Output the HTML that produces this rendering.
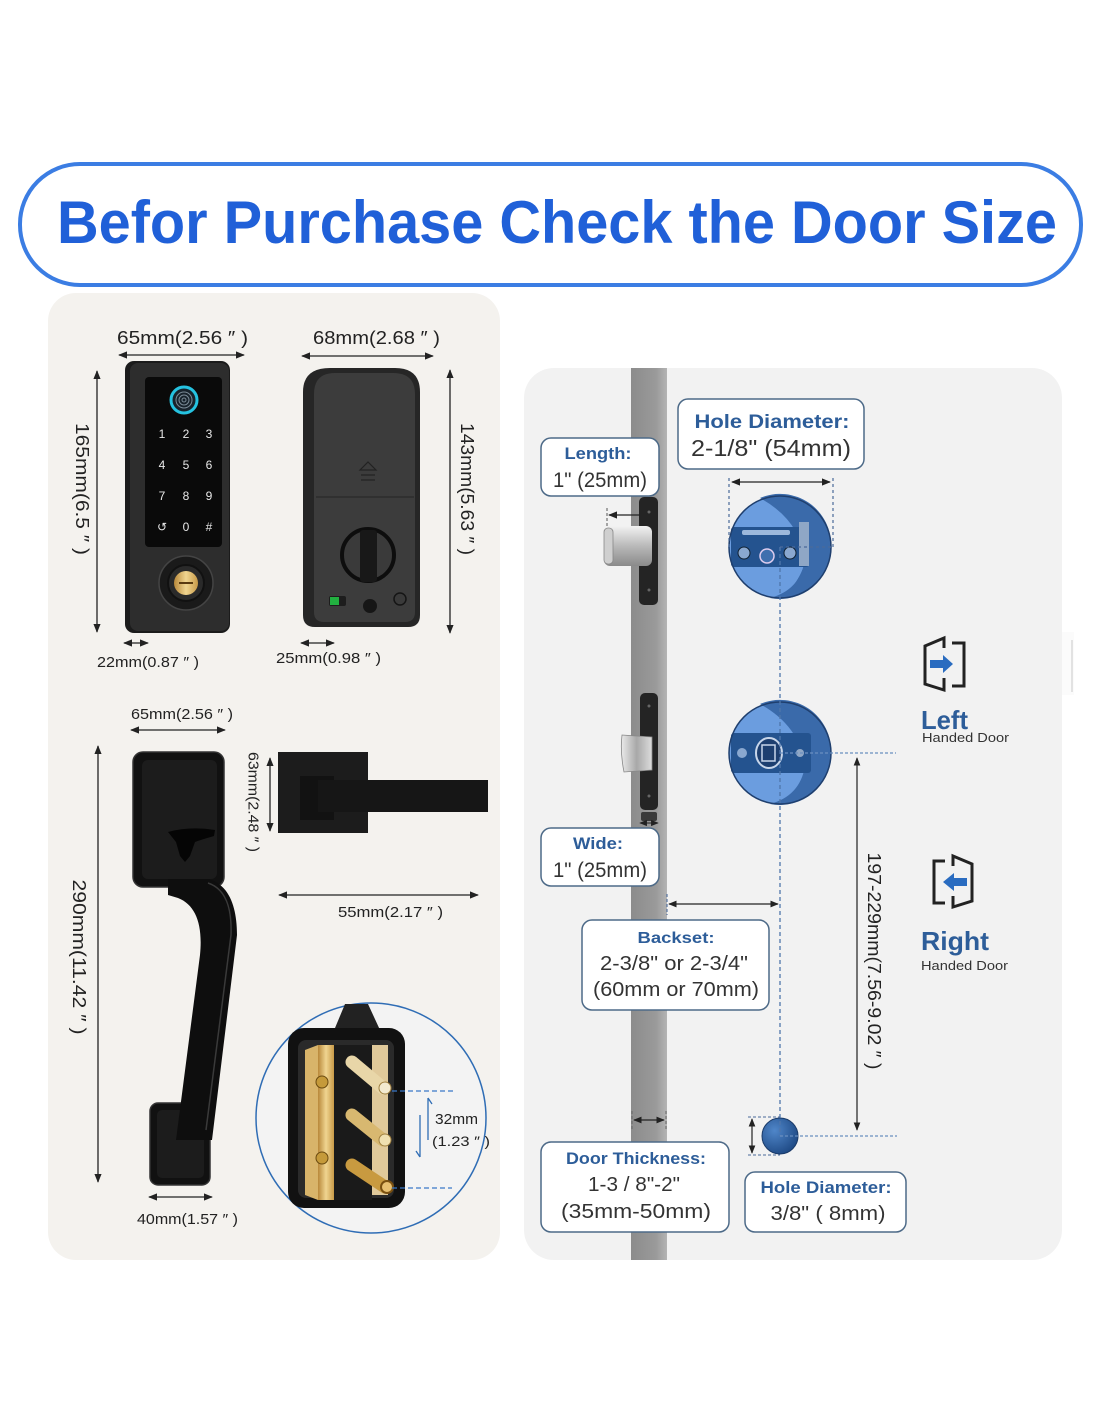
<!DOCTYPE html>
<html><head><meta charset="utf-8"><style>
html,body{margin:0;padding:0;background:#fff;}
svg{display:block;}
</style></head><body>
<svg width="1100" height="1422" viewBox="0 0 1100 1422" xmlns="http://www.w3.org/2000/svg" font-family="Liberation Sans, sans-serif">
<defs>
<marker id="a" viewBox="0 0 10 10" refX="9" refY="5" markerWidth="7" markerHeight="7" orient="auto-start-reverse"><path d="M0,1 L10,5 L0,9 z" fill="#222"/></marker>
<marker id="b" viewBox="0 0 10 10" refX="9" refY="5" markerWidth="6" markerHeight="6" orient="auto-start-reverse"><path d="M0,1 L10,5 L0,9 z" fill="#2f6db5"/></marker>
<linearGradient id="silver" x1="0" y1="0" x2="0" y2="1"><stop offset="0" stop-color="#f2f2f2"/><stop offset="0.5" stop-color="#b9b9b9"/><stop offset="1" stop-color="#8a8a8a"/></linearGradient>
<linearGradient id="silverh" x1="0" y1="0" x2="1" y2="0"><stop offset="0" stop-color="#eaeaea"/><stop offset="0.5" stop-color="#a8a8a8"/><stop offset="1" stop-color="#dcdcdc"/></linearGradient>
<linearGradient id="gold" x1="0" y1="0" x2="1" y2="0"><stop offset="0" stop-color="#b8883a"/><stop offset="0.5" stop-color="#f0d590"/><stop offset="1" stop-color="#c89a48"/></linearGradient>
<linearGradient id="door" x1="0" y1="0" x2="1" y2="0"><stop offset="0" stop-color="#8c8c8c"/><stop offset="0.7" stop-color="#9a9a9a"/><stop offset="1" stop-color="#b4b4b4"/></linearGradient>
<radialGradient id="small" cx="0.35" cy="0.35" r="0.7"><stop offset="0" stop-color="#4f86c9"/><stop offset="1" stop-color="#1f4a85"/></radialGradient>
</defs>

<!-- Header pill -->
<rect x="20" y="164" width="1061" height="121" rx="60" fill="#fff" stroke="#3b7de3" stroke-width="4"/>
<text x="57" y="243" font-size="60" font-weight="bold" fill="#2060d8" textLength="1000" lengthAdjust="spacingAndGlyphs">Befor Purchase Check the Door Size</text>

<!-- Left panel -->
<rect x="48" y="293" width="452" height="967" rx="28" fill="#f4f2ee"/>

<!-- Keypad front dims -->
<text x="117" y="344" font-size="18" fill="#222" textLength="131" lengthAdjust="spacingAndGlyphs">65mm(2.56 ″ )</text>
<line x1="119" y1="355" x2="244" y2="355" stroke="#222" stroke-width="1.3" marker-start="url(#a)" marker-end="url(#a)"/>
<text x="313" y="344" font-size="18" fill="#222" textLength="127" lengthAdjust="spacingAndGlyphs">68mm(2.68 ″ )</text>
<line x1="302" y1="356" x2="433" y2="356" stroke="#222" stroke-width="1.3" marker-start="url(#a)" marker-end="url(#a)"/>
<line x1="97" y1="371" x2="97" y2="632" stroke="#222" stroke-width="1.3" marker-start="url(#a)" marker-end="url(#a)"/>
<text x="82" y="489" font-size="18" fill="#222" text-anchor="middle" dominant-baseline="central" transform="rotate(90 82 489)" textLength="132" lengthAdjust="spacingAndGlyphs">165mm(6.5 ″ )</text>
<line x1="450" y1="370" x2="450" y2="633" stroke="#222" stroke-width="1.3" marker-start="url(#a)" marker-end="url(#a)"/>
<text x="467" y="489" font-size="18" fill="#222" text-anchor="middle" dominant-baseline="central" transform="rotate(90 467 489)" textLength="132" lengthAdjust="spacingAndGlyphs">143mm(5.63 ″ )</text>

<!-- Keypad front -->
<rect x="125" y="361" width="105" height="272" rx="9" fill="#1b1b1b"/>
<rect x="130" y="363" width="99" height="268" rx="8" fill="#2d2d2d"/>
<rect x="145" y="377" width="77" height="170" rx="4" fill="#0a0a0a"/>
<circle cx="184" cy="400" r="13" fill="#18232c" stroke="#25c2e0" stroke-width="3"/>
<circle cx="184" cy="400" r="8" fill="none" stroke="#7a8a96" stroke-width="1"/>
<circle cx="184" cy="400" r="5" fill="none" stroke="#7a8a96" stroke-width="1"/>
<circle cx="184" cy="400" r="2" fill="none" stroke="#7a8a96" stroke-width="1"/>
<g fill="#e8e8e8" font-size="12" text-anchor="middle">
<text x="162" y="438">1</text><text x="186" y="438">2</text><text x="209" y="438">3</text>
<text x="162" y="469">4</text><text x="186" y="469">5</text><text x="209" y="469">6</text>
<text x="162" y="500">7</text><text x="186" y="500">8</text><text x="209" y="500">9</text>
<text x="162" y="531">↺</text><text x="186" y="531">0</text><text x="209" y="531">#</text>
</g>
<circle cx="186" cy="583" r="27" fill="#1a1a1a" stroke="#444" stroke-width="1.5"/>
<circle cx="186" cy="583" r="18" fill="#2a2a2a" stroke="#111" stroke-width="2"/>
<circle cx="186" cy="583" r="12" fill="url(#gold)"/>
<line x1="179" y1="583" x2="193" y2="583" stroke="#5a3a10" stroke-width="2"/>

<!-- Back unit -->
<path d="M303 392 Q303 368 330 368 L395 368 Q420 368 420 392 L420 615 Q420 627 408 627 L315 627 Q303 627 303 615 Z" fill="#262626"/>
<path d="M314 394 Q314 373 335 373 L393 373 Q415 373 415 394 L415 612 Q415 622 405 622 L324 622 Q314 622 314 612 Z" fill="#3c3c3c"/>
<line x1="316" y1="497" x2="414" y2="497" stroke="#2a2a2a" stroke-width="1.2"/>
<path d="M360 470 L368 462 L376 470 Z" fill="none" stroke="#222" stroke-width="1.2"/>
<line x1="361" y1="475" x2="375" y2="475" stroke="#222" stroke-width="1.2"/>
<line x1="361" y1="480" x2="375" y2="480" stroke="#222" stroke-width="1.2"/>
<circle cx="368" cy="555" r="26" fill="#3a3a3a" stroke="#0d0d0d" stroke-width="4"/>
<rect x="360" y="530" width="17" height="52" rx="3" fill="#181818"/>
<rect x="329" y="596" width="17" height="10" rx="2" fill="#1d1d1d"/>
<rect x="330" y="597" width="9" height="8" fill="#22b040"/>
<circle cx="370" cy="606" r="7" fill="#161616"/>
<circle cx="400" cy="599" r="6" fill="#3a3a3a" stroke="#151515" stroke-width="1.5"/>

<line x1="124" y1="643" x2="148" y2="643" stroke="#222" stroke-width="1.3" marker-start="url(#a)" marker-end="url(#a)"/>
<text x="97" y="667" font-size="15" fill="#222" textLength="102" lengthAdjust="spacingAndGlyphs">22mm(0.87 ″ )</text>
<line x1="301" y1="643" x2="334" y2="643" stroke="#222" stroke-width="1.3" marker-start="url(#a)" marker-end="url(#a)"/>
<text x="276" y="663" font-size="15" fill="#222" textLength="105" lengthAdjust="spacingAndGlyphs">25mm(0.98 ″ )</text>

<!-- Handle set -->
<text x="131" y="719" font-size="15" fill="#222" textLength="102" lengthAdjust="spacingAndGlyphs">65mm(2.56 ″ )</text>
<line x1="131" y1="730" x2="225" y2="730" stroke="#222" stroke-width="1.3" marker-start="url(#a)" marker-end="url(#a)"/>
<line x1="98" y1="746" x2="98" y2="1182" stroke="#222" stroke-width="1.3" marker-start="url(#a)" marker-end="url(#a)"/>
<text x="79" y="957" font-size="18" fill="#222" text-anchor="middle" dominant-baseline="central" transform="rotate(90 79 957)" textLength="155" lengthAdjust="spacingAndGlyphs">290mm(11.42 ″ )</text>

<rect x="133" y="752" width="91" height="135" rx="10" fill="#111" stroke="#333" stroke-width="1.5"/>
<rect x="142" y="760" width="75" height="119" rx="6" fill="#1c1c1c"/>
<path d="M168 832 Q190 826 215 830 L214 836 Q200 840 195 842 L190 856 L185 862 L180 856 L176 842 Z" fill="#050505"/>
<rect x="150" y="1103" width="60" height="82" rx="8" fill="#111" stroke="#333" stroke-width="1.5"/>
<rect x="157" y="1110" width="47" height="68" rx="5" fill="#1c1c1c"/>
<path d="M168 879 L208 879 C228 884 237 905 237 935 L212 1140 L176 1140 L200 955 C203 925 196 905 178 898 L168 895 Z" fill="#0e0e0e"/>
<path d="M208 883 C226 889 232 908 231 935 L206 1130" fill="none" stroke="#3a3a3a" stroke-width="1.5"/>

<rect x="278" y="752" width="90" height="81" fill="#1c1c1c"/>
<rect x="300" y="776" width="34" height="44" fill="#121212"/>
<rect x="318" y="780" width="170" height="32" fill="#161616"/>
<line x1="270" y1="758" x2="270" y2="831" stroke="#222" stroke-width="1.3" marker-start="url(#a)" marker-end="url(#a)"/>
<text x="253" y="802" font-size="15" fill="#222" text-anchor="middle" dominant-baseline="central" transform="rotate(90 253 802)" textLength="100" lengthAdjust="spacingAndGlyphs">63mm(2.48 ″ )</text>
<line x1="279" y1="895" x2="478" y2="895" stroke="#222" stroke-width="1.3" marker-start="url(#a)" marker-end="url(#a)"/>
<text x="338" y="917" font-size="15" fill="#222" textLength="105" lengthAdjust="spacingAndGlyphs">55mm(2.17 ″ )</text>

<line x1="149" y1="1197" x2="212" y2="1197" stroke="#222" stroke-width="1.3" marker-start="url(#a)" marker-end="url(#a)"/>
<text x="137" y="1224" font-size="15" fill="#222" textLength="101" lengthAdjust="spacingAndGlyphs">40mm(1.57 ″ )</text>

<!-- Detail circle -->
<circle cx="371" cy="1118" r="115" fill="#f3f3f3" stroke="#2f6db5" stroke-width="1.5"/>
<path d="M335 1028 L345 1004 L368 1004 L380 1030 Z" fill="#222"/>
<rect x="288" y="1028" width="117" height="180" rx="16" fill="#111"/>
<rect x="298" y="1040" width="96" height="158" rx="8" fill="#2a2a2a"/>
<path d="M305 1050 L318 1045 L318 1200 L305 1195 Z" fill="#d8b46a"/>
<rect x="318" y="1045" width="16" height="155" fill="url(#gold)"/>
<rect x="334" y="1045" width="38" height="155" fill="#1a1a1a"/>
<rect x="372" y="1045" width="16" height="150" fill="#e0c99a"/>
<circle cx="322" cy="1082" r="6" fill="#c59a3a" stroke="#6a4a10"/>
<circle cx="322" cy="1158" r="6" fill="#c59a3a" stroke="#6a4a10"/>
<line x1="352" y1="1062" x2="383" y2="1088" stroke="#e8d6a8" stroke-width="13" stroke-linecap="round"/>
<line x1="352" y1="1115" x2="383" y2="1140" stroke="#d8b870" stroke-width="13" stroke-linecap="round"/>
<line x1="352" y1="1165" x2="385" y2="1187" stroke="#c89a40" stroke-width="13" stroke-linecap="round"/>
<circle cx="385" cy="1088" r="6" fill="#f3ead0" stroke="#a08040"/>
<circle cx="385" cy="1140" r="6" fill="#f0e0b0" stroke="#a08040"/>
<circle cx="387" cy="1187" r="6" fill="#e8c070" stroke="#7a5010" stroke-width="2"/>
<line x1="392" y1="1091" x2="453" y2="1091" stroke="#3a78c8" stroke-width="1.3" stroke-dasharray="5 3"/>
<line x1="392" y1="1188" x2="452" y2="1188" stroke="#3a78c8" stroke-width="1.3" stroke-dasharray="5 3"/>
<path d="M428 1098 L428 1140 M428 1098 L432 1104" stroke="#2f6db5" stroke-width="1.3" fill="none"/>
<path d="M420 1115 L420 1157 M420 1157 L416 1151" stroke="#2f6db5" stroke-width="1.3" fill="none"/>
<text x="435" y="1124" font-size="15" fill="#222" textLength="43" lengthAdjust="spacingAndGlyphs">32mm</text>
<text x="432" y="1146" font-size="14" fill="#222" textLength="58" lengthAdjust="spacingAndGlyphs">(1.23 ″ )</text>

<!-- Right panel -->
<rect x="524" y="368" width="538" height="892" rx="30" fill="#f2f2f2"/>
<rect x="1062" y="632" width="12" height="63" fill="#fbfbfb"/>
<line x1="1072" y1="640" x2="1072" y2="692" stroke="#e2e2e2" stroke-width="2"/>
<rect x="631" y="368" width="36" height="892" fill="url(#door)"/>

<!-- deadbolt -->
<rect x="639" y="497" width="19" height="108" rx="5" fill="#242424"/>
<circle cx="649" cy="512" r="1.5" fill="#666"/><circle cx="649" cy="590" r="1.5" fill="#666"/>
<rect x="604" y="526" width="48" height="40" rx="6" fill="url(#silver)"/>
<rect x="604" y="528" width="9" height="36" rx="4" fill="#cfcfcf" stroke="#888" stroke-width="0.8"/>
<line x1="607" y1="508" x2="607" y2="528" stroke="#555" stroke-width="1" stroke-dasharray="3 2"/>
<line x1="640" y1="515" x2="609" y2="515" stroke="#222" stroke-width="1.3" marker-end="url(#a)"/>
<!-- latch -->
<rect x="640" y="693" width="18" height="117" rx="5" fill="#242424"/>
<circle cx="649" cy="706" r="1.5" fill="#666"/><circle cx="649" cy="796" r="1.5" fill="#666"/>
<path d="M622 735 Q620 752 624 772 L652 770 L652 737 Z" fill="url(#silverh)" stroke="#888" stroke-width="0.8"/>
<rect x="641" y="812" width="16" height="9" rx="2" fill="#3a3a3a"/>
<line x1="640" y1="823" x2="658" y2="823" stroke="#222" stroke-width="1.1" marker-start="url(#a)" marker-end="url(#a)"/>

<!-- hole circles -->
<g>
<circle cx="780" cy="547" r="51" fill="#6b9ddf"/>
<path d="M780 496 A51 51 0 0 1 780 598 A62 62 0 0 0 780 496 Z" fill="#2f5e9c"/>
<path d="M760 498 Q800 520 805 560 Q800 590 770 598 A51 51 0 0 0 831 547 A51 51 0 0 0 760 498 Z" fill="#3a6aaa"/>
<rect x="731" y="527" width="78" height="40" rx="3" fill="#24538f"/>
<rect x="742" y="530" width="48" height="5" rx="2" fill="#9cb8dc"/>
<circle cx="744" cy="553" r="6" fill="#8aa8d0" stroke="#123" stroke-width="1"/>
<circle cx="790" cy="553" r="6" fill="#8aa8d0" stroke="#123" stroke-width="1"/>
<circle cx="767" cy="556" r="7" fill="#3f6fae" stroke="#dce" stroke-width="1.5"/>
<rect x="799" y="522" width="10" height="44" fill="#8fa7c6"/>
<circle cx="780" cy="547" r="51" fill="none" stroke="#1f3f6e" stroke-width="1.5"/>
</g>
<g>
<circle cx="780" cy="753" r="51" fill="#6b9ddf"/>
<path d="M760 704 Q800 726 805 766 Q800 796 770 804 A51 51 0 0 0 831 753 A51 51 0 0 0 760 704 Z" fill="#3a6aaa"/>
<rect x="731" y="733" width="80" height="40" rx="3" fill="#24538f"/>
<ellipse cx="769" cy="753" rx="13" ry="15" fill="#1d3f70" stroke="#c8d6ea" stroke-width="2"/>
<rect x="762" y="745" width="13" height="16" fill="none" stroke="#c8d6ea" stroke-width="1.5"/>
<circle cx="742" cy="753" r="5" fill="#8aa8d0"/>
<circle cx="800" cy="753" r="4" fill="#8fa7c6"/>
<circle cx="780" cy="753" r="51" fill="none" stroke="#1f3f6e" stroke-width="1.5"/>
</g>
<circle cx="780" cy="1136" r="18" fill="url(#small)" stroke="#1a3a68" stroke-width="1"/>

<!-- connectors -->
<line x1="729" y1="478" x2="729" y2="547" stroke="#4a6a9a" stroke-width="1.2" stroke-dasharray="3 3"/>
<line x1="833" y1="478" x2="833" y2="547" stroke="#4a6a9a" stroke-width="1.2" stroke-dasharray="3 3"/>
<line x1="732" y1="482" x2="830" y2="482" stroke="#222" stroke-width="1.3" marker-start="url(#a)" marker-end="url(#a)"/>
<line x1="780" y1="547" x2="833" y2="547" stroke="#4a6a9a" stroke-width="1.2" stroke-dasharray="3 3"/>
<line x1="780" y1="547" x2="780" y2="1136" stroke="#4f76ab" stroke-width="1.3" stroke-dasharray="4 3"/>
<line x1="780" y1="753" x2="896" y2="753" stroke="#6a8fc0" stroke-width="1.2" stroke-dasharray="3 2"/>
<line x1="857" y1="758" x2="857" y2="1130" stroke="#222" stroke-width="1.2" marker-start="url(#a)" marker-end="url(#a)"/>
<text x="874" y="961" font-size="18" fill="#222" text-anchor="middle" dominant-baseline="central" transform="rotate(90 874 961)" textLength="217" lengthAdjust="spacingAndGlyphs">197-229mm(7.56-9.02 ″ )</text>
<line x1="780" y1="1136" x2="897" y2="1136" stroke="#6a8fc0" stroke-width="1.2" stroke-dasharray="3 2"/>
<line x1="748" y1="1117" x2="780" y2="1117" stroke="#4a6a9a" stroke-width="1.1" stroke-dasharray="3 2"/>
<line x1="748" y1="1155" x2="780" y2="1155" stroke="#4a6a9a" stroke-width="1.1" stroke-dasharray="3 2"/>
<line x1="752" y1="1119" x2="752" y2="1153" stroke="#222" stroke-width="1.2" marker-start="url(#a)" marker-end="url(#a)"/>
<line x1="667" y1="894" x2="667" y2="915" stroke="#4a6a9a" stroke-width="1.1" stroke-dasharray="3 2"/>
<line x1="669" y1="904" x2="778" y2="904" stroke="#222" stroke-width="1.2" marker-start="url(#a)" marker-end="url(#a)"/>
<line x1="632" y1="1111" x2="632" y2="1129" stroke="#666" stroke-width="1" stroke-dasharray="3 2"/>
<line x1="666" y1="1111" x2="666" y2="1129" stroke="#666" stroke-width="1" stroke-dasharray="3 2"/>
<line x1="634" y1="1120" x2="664" y2="1120" stroke="#222" stroke-width="1.2" marker-start="url(#a)" marker-end="url(#a)"/>

<!-- label boxes -->
<g fill="#fff" stroke="#4d6a88" stroke-width="1.5">
<rect x="541" y="438" width="118" height="58" rx="10"/>
<rect x="678" y="399" width="186" height="70" rx="10"/>
<rect x="541" y="828" width="118" height="58" rx="10"/>
<rect x="582" y="920" width="187" height="90" rx="10"/>
<rect x="541" y="1142" width="188" height="90" rx="10"/>
<rect x="745" y="1172" width="161" height="60" rx="10"/>
</g>
<g font-weight="bold" fill="#2d5d99" text-anchor="middle">
<text x="598" y="459" font-size="17" textLength="67" lengthAdjust="spacingAndGlyphs">Length:</text>
<text x="772" y="428" font-size="19" textLength="155" lengthAdjust="spacingAndGlyphs">Hole Diameter:</text>
<text x="598" y="849" font-size="17" textLength="50" lengthAdjust="spacingAndGlyphs">Wide:</text>
<text x="676" y="943" font-size="16" textLength="77" lengthAdjust="spacingAndGlyphs">Backset:</text>
<text x="636" y="1164" font-size="17" textLength="140" lengthAdjust="spacingAndGlyphs">Door Thickness:</text>
<text x="826" y="1193" font-size="17" textLength="131" lengthAdjust="spacingAndGlyphs">Hole Diameter:</text>
</g>
<g fill="#333" text-anchor="middle">
<text x="600" y="487" font-size="21" textLength="94" lengthAdjust="spacingAndGlyphs">1" (25mm)</text>
<text x="771" y="456" font-size="23" textLength="160" lengthAdjust="spacingAndGlyphs">2-1/8" (54mm)</text>
<text x="600" y="877" font-size="21" textLength="94" lengthAdjust="spacingAndGlyphs">1" (25mm)</text>
<text x="674" y="970" font-size="20" textLength="148" lengthAdjust="spacingAndGlyphs">2-3/8" or 2-3/4"</text>
<text x="676" y="996" font-size="20" textLength="166" lengthAdjust="spacingAndGlyphs">(60mm or 70mm)</text>
<text x="634" y="1191" font-size="20" textLength="92" lengthAdjust="spacingAndGlyphs">1-3 / 8"-2"</text>
<text x="636" y="1218" font-size="20" textLength="150" lengthAdjust="spacingAndGlyphs">(35mm-50mm)</text>
<text x="828" y="1220" font-size="20" textLength="115" lengthAdjust="spacingAndGlyphs">3/8" ( 8mm)</text>
</g>

<!-- Left handed icon -->
<path d="M944 648 L944 638 L925 646 L925 684 L944 690 L944 678" fill="none" stroke="#222" stroke-width="3" stroke-linejoin="miter"/>
<path d="M952 643 L964 643 L964 686 L952 686" fill="none" stroke="#222" stroke-width="3"/>
<path d="M930 660 L943 660 L943 655 L953 664 L943 673 L943 668 L930 668 Z" fill="#2a6cc0"/>
<text x="921" y="729" font-size="26" font-weight="bold" fill="#2d5d99" textLength="47" lengthAdjust="spacingAndGlyphs">Left</text>
<text x="922" y="742" font-size="13" fill="#333" textLength="87" lengthAdjust="spacingAndGlyphs">Handed Door</text>

<!-- Right handed icon -->
<path d="M953 866 L953 856 L972 864 L972 901 L953 907 L953 896" fill="none" stroke="#222" stroke-width="3"/>
<path d="M945 861 L934 861 L934 903 L945 903" fill="none" stroke="#222" stroke-width="3"/>
<path d="M967 878 L954 878 L954 873 L943 882 L954 891 L954 886 L967 886 Z" fill="#2a6cc0"/>
<text x="921" y="950" font-size="26" font-weight="bold" fill="#2d5d99" textLength="68" lengthAdjust="spacingAndGlyphs">Right</text>
<text x="921" y="970" font-size="13" fill="#333" textLength="87" lengthAdjust="spacingAndGlyphs">Handed Door</text>
</svg>
</body></html>
